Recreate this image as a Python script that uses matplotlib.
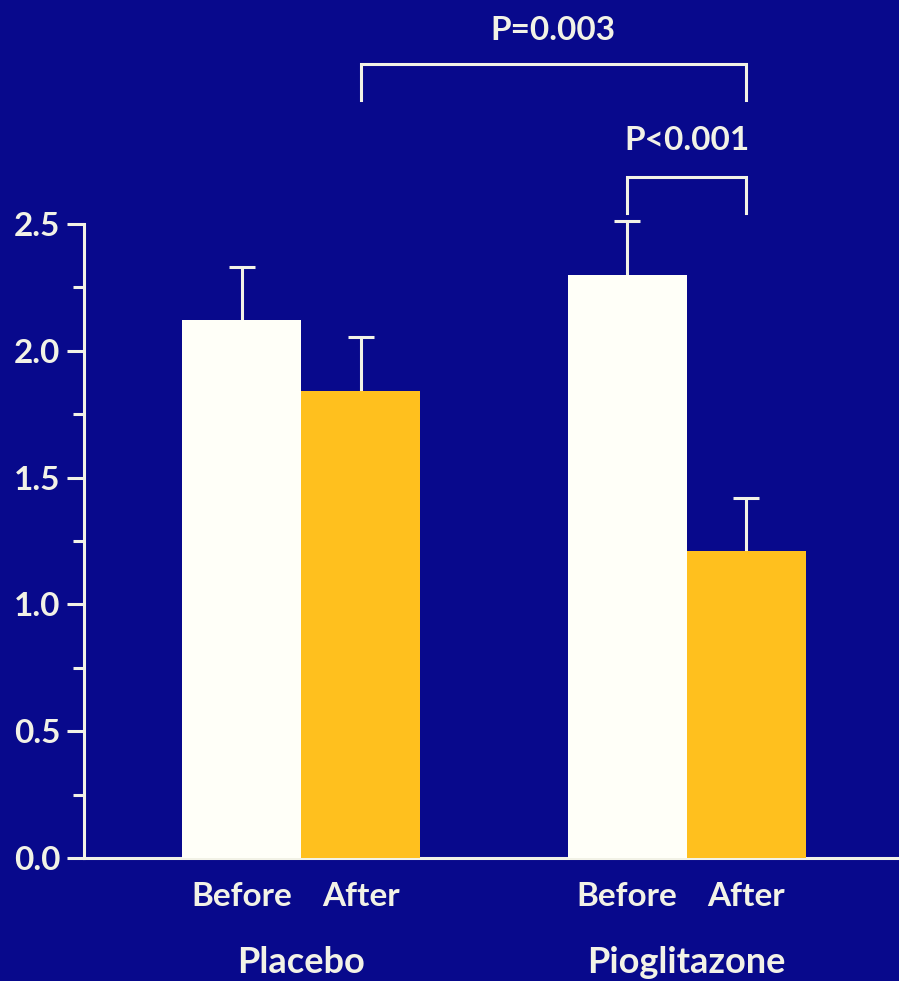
import matplotlib
matplotlib.use("Agg")
import matplotlib.pyplot as plt
from matplotlib.ticker import FixedLocator

# Data
groups = ["Placebo", "Pioglitazone"]
conditions = ["Before", "After"]
means = [2.12, 1.84, 2.30, 1.21]
errors = [0.21, 0.215, 0.21, 0.21]
positions = [0.0, 1.0, 3.24, 4.24]
yticks = [0.0, 0.5, 1.0, 1.5, 2.0, 2.5]
ytick_labels = ["0.0", "0.5", "1.0", "1.5", "2.0", "2.5"]
yminor = [0.25, 0.75, 1.25, 1.75, 2.25]
pvals = ["P=0.003", "P<0.001"]

BG = "#08098c"
WHITE = "#fffff8"
ORANGE = "#ffc01e"
LINE = "#f2f2e6"
FONT = ["Lato", "DejaVu Sans"]

W, H = 899, 981
fig = plt.figure(figsize=(W / 100, H / 100), dpi=100, facecolor=BG)
left_px, base_px = 84, 858
ax = fig.add_axes([left_px / W, (H - base_px) / H, 1 - left_px / W, base_px / H])
ax.set_facecolor(BG)

px_per_unit = 253.6
ax.set_ylim(0, base_px / px_per_unit)
bw_px = 119
xl = -(241.5 - left_px) / bw_px
ax.set_xlim(xl, xl + (W - left_px) / bw_px)

colors = [WHITE, ORANGE, WHITE, ORANGE]
ax.bar(positions, means, width=1.0, color=colors, edgecolor="none", zorder=3)
eb = ax.errorbar(positions, means, yerr=[[0] * 4, errors], fmt="none",
                 ecolor=LINE, elinewidth=2.2, capsize=9.4, capthick=2.2, zorder=2)
caplines = eb[1]
if len(caplines) == 2:
    caplines[0].set_visible(False)

# Brackets
lw = 2.2
def bracket(x1, x2, y, ylow, label, ytext_px):
    ax.plot([x1, x1, x2, x2], [ylow, y, y, ylow], color=LINE, lw=lw,
            solid_joinstyle="miter", clip_on=False, zorder=4)
    fig.text(ax.transData.transform(((x1 + x2) / 2, 0))[0] / W, 1 - ytext_px / H,
             label, color=LINE, fontsize=24, family=FONT, weight="bold",
             ha="center", va="baseline")

bracket(positions[1], positions[3], 3.13, 2.99, pvals[0], 40)
bracket(positions[2], positions[3], 2.686, 2.543, pvals[1], 150)

# Axes styling
for s in ["top", "right"]:
    ax.spines[s].set_visible(False)
ax.spines["left"].set_bounds(0, 2.5)
for s in ["left", "bottom"]:
    ax.spines[s].set_color(LINE)
    ax.spines[s].set_linewidth(2.2)
ax.set_yticks(yticks)
ax.set_yticklabels(ytick_labels, fontsize=24, family=FONT, weight="bold", color=LINE)
ax.yaxis.set_minor_locator(FixedLocator(yminor))
ax.tick_params(axis="y", which="major", length=12, width=2.2, color=LINE, pad=5)
ax.tick_params(axis="y", which="minor", length=8, width=2.2, color=LINE)
ax.set_xticks([])

# Condition and group labels
for i, p in enumerate(positions):
    xpix = ax.transData.transform((p, 0))[0]
    fig.text(xpix / W, 1 - 906 / H, conditions[i % 2], color=LINE, fontsize=24,
             family=FONT, weight="bold", ha="center", va="baseline")
for g, (a, b) in zip(groups, [(positions[0], positions[1]), (positions[2], positions[3])]):
    xpix = ax.transData.transform(((a + b) / 2, 0))[0]
    fig.text(xpix / W, 1 - 973 / H, g, color=LINE, fontsize=26,
             family=FONT, weight="bold", ha="center", va="baseline")

fig.savefig("out.png", dpi=100, facecolor=BG)
